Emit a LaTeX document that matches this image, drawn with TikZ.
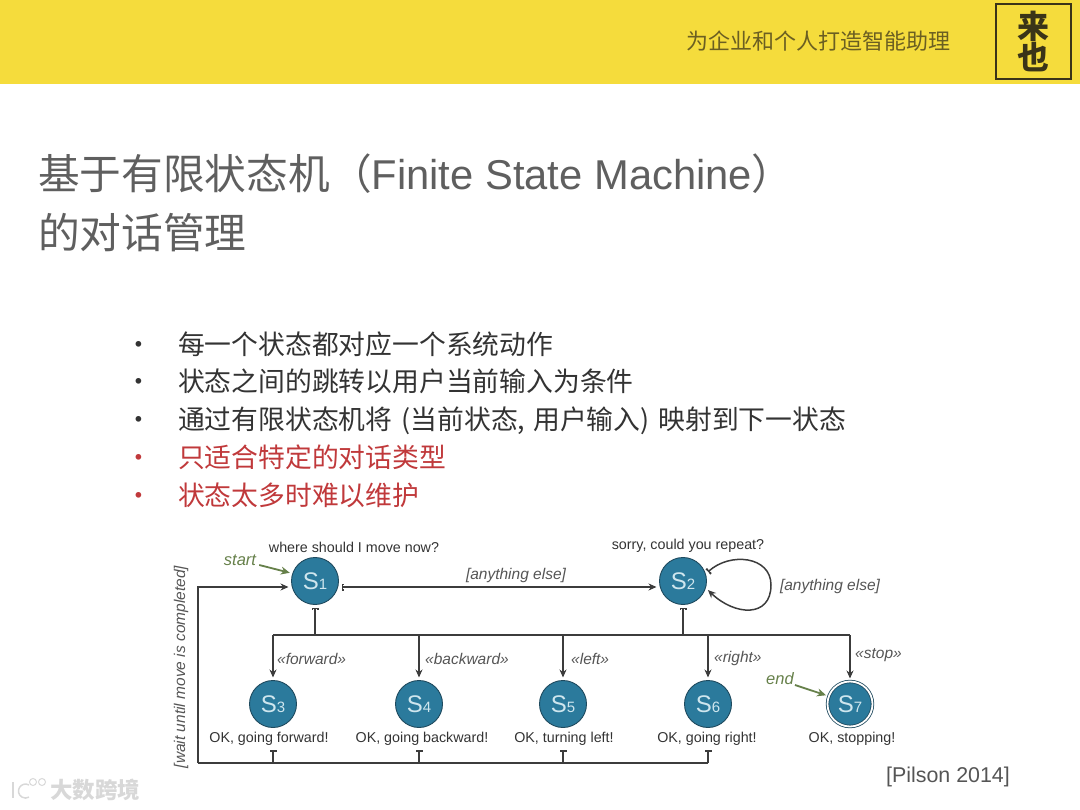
\documentclass[tikz,border=0pt]{standalone}
\usepackage{fontspec}
\setmainfont{Liberation Sans}
\newfontfamily\cjk{Noto Sans CJK SC}
\usetikzlibrary{arrows.meta,positioning}
\definecolor{banner}{HTML}{F5DC3C}
\definecolor{inkdark}{HTML}{3A3418}
\definecolor{bannertext}{HTML}{6B5F22}
\definecolor{titlegray}{HTML}{5F5F5F}
\definecolor{bodygray}{HTML}{333333}
\definecolor{warnred}{HTML}{C0393B}
\definecolor{teal}{HTML}{2B7A9C}
\definecolor{tealdark}{HTML}{1F4A5E}
\definecolor{tealtext}{HTML}{CFE6EE}
\definecolor{linegray}{HTML}{3C3C3C}
\definecolor{labelgray}{HTML}{555555}
\definecolor{mossgreen}{HTML}{66804A}
\definecolor{markgray}{HTML}{D8D8D8}
\newcommand{\sname}[1]{S{\fontsize{15}{15}\selectfont #1}}
\newcommand{\fsize}[1]{\fontsize{#1}{#1}\selectfont}
\newcommand{\dotitem}{\makebox[45pt][l]{\hspace{-8pt}•}}

\begin{document}
\begin{tikzpicture}[
    x=1pt, y=-1pt,
    state/.style={circle, draw=tealdark, fill=teal, line width=0.9pt, minimum size=47pt,
                  inner sep=0pt, outer sep=3pt, text=tealtext, font=\fsize{24}},
    final/.style={circle, draw=tealdark, fill=teal, line width=0.8pt, double=white,
                  double distance=1.8pt, minimum size=45pt,
                  inner sep=0pt, outer sep=3pt, text=tealtext, font=\fsize{24}},
    speech/.style={text=bodygray, font=\fsize{14.3}, inner sep=0pt, minimum height=22pt},
    guard/.style={text=labelgray, font=\fsize{15.5}\itshape, inner sep=0pt},
    green label/.style={text=mossgreen, font=\fsize{16.5}\itshape, inner sep=0pt},
    bullet/.style={font=\cjk\fsize{26.8}, inner sep=0pt, text height=23pt, text depth=14.3pt, anchor=north west},
    wire/.style={draw=linegray, line width=1.5pt},
    arrow/.style={wire, -{Stealth[length=8pt,width=7pt]}},
    tbar/.style={wire, {Bar[width=7pt,length=2pt]}-},
    tarrow/.style={wire, {Bar[width=7pt,length=2pt]}-{Stealth[length=8pt,width=7pt]}},
    garrow/.style={-{Stealth[length=9pt,width=8pt]}, draw=mossgreen, line width=1.8pt},
]
    \useasboundingbox (0,0) rectangle (1080,810);
    % banner
    \fill[banner] (0,0) rectangle (1080,84);
    \node[text=bannertext, font=\cjk\fsize{22}, inner sep=0pt] (slogan) at (818,41) {为企业和个人打造智能助理};
    \node[draw=inkdark, line width=1.1pt, minimum width=75pt, minimum height=75pt, inner sep=0pt,
          align=center, text=inkdark, font=\cjk\bfseries\fontsize{32}{31}\selectfont] (logo) at (1033.5,41.5) {来\\也};

    % title and bullets
    \node[anchor=north west, align=left, text=titlegray, inner sep=0pt,
          font=\fontsize{41.7}{59}\selectfont] (title) at (38,154)
        {{\cjk 基于有限状态机（}Finite State Machine{\cjk ）}\\{\cjk 的对话管理}};
    \node[bullet, text=bodygray] (b1) at (133,331) {\dotitem 每一个状态都对应一个系统动作};
    \node[bullet, text=bodygray, below=0pt of b1.south west, anchor=north west] (b2) {\dotitem 状态之间的跳转以用户当前输入为条件};
    \node[bullet, text=bodygray, below=0pt of b2.south west, anchor=north west] (b3) {\dotitem 通过有限状态机将\hspace{3pt} (当前状态,\hspace{2pt} 用户输入)\hspace{3pt} 映射到下一状态};
    \node[bullet, text=warnred, below=0pt of b3.south west, anchor=north west] (b4) {\dotitem 只适合特定的对话类型};
    \node[bullet, text=warnred, below=0pt of b4.south west, anchor=north west] (b5) {\dotitem 状态太多时难以维护};

    % states
    \node[state] (s1) at (315,581) {\sname{1}};
    \node[state, right=315pt of s1] (s2) {\sname{2}};
    \node[state] (s3) at (273,704) {\sname{3}};
    \node[state, right=93pt of s3] (s4) {\sname{4}};
    \node[state, right=91pt of s4] (s5) {\sname{5}};
    \node[state, right=92pt of s5] (s6) {\sname{6}};
    \node[final, right=90pt of s6] (s7) {\sname{7}};

    % what the system says
    \node[speech] (say1) at (354,547) {where should I move now?};
    \node[speech] (say2) at (688,546) {sorry, could you repeat?};
    \node[speech] (say3) at (269,739) {OK, going forward!};
    \node[speech] (say4) at (422,739) {OK, going backward!};
    \node[speech] (say5) at (564,739) {OK, turning left!};
    \node[speech] (say6) at (707,739) {OK, going right!};
    \node[speech] (say7) at (852,739) {OK, stopping!};

    % guards
    \node[guard] (else12) at (516,575) {[anything else]};
    \node[guard] (else22) at (830,586) {[anything else]};
    \node[guard, anchor=west] (gforward) at (277,659) {«forward»};
    \node[guard, anchor=west] (gbackward) at (425,659) {«backward»};
    \node[guard, anchor=west] (gleft) at (571,659) {«left»};
    \node[guard, anchor=west] (gright) at (714,658) {«right»};
    \node[guard, anchor=west] (gstop) at (855,655) {«stop»};
    \node[guard, rotate=90] (gwait) at (181,667) {[wait until move is completed]};

    \node[green label] (start) at (240,560) {start};
    \node[green label] (end) at (780,679) {end};
    \node[text=labelgray, font=\fsize{21.4}, inner sep=0pt] (cite) at (948,777) {[Pilson 2014]};

    % bus lines
    \coordinate (bustop) at (315,635);
    \coordinate (busleft) at (198,763);

    \draw[garrow] (start.east) ++(3pt,-5pt) coordinate (startout) -- (s1.162);
    \draw[garrow] (end.east) ++(1pt,-6pt) coordinate (endout) -- (s7.160);

    \draw[tarrow] ([yshift=-6pt]s1.east) -- ([yshift=-6pt]s2.west);
    \draw[tarrow] (s2.20) .. controls (730,552) and (771,556) .. (771,585)
                          .. controls (771,618) and (735,616) .. (s2.-20);

    \draw[tbar] (s1) -- (s1 |- bustop);
    \draw[tbar] (s2) -- (s2 |- bustop);
    \draw[wire] (s3 |- bustop) -- (s7 |- bustop);
    \draw[arrow] (s3 |- bustop) -- (s3);
    \draw[arrow] (s4 |- bustop) -- (s4);
    \draw[arrow] (s5 |- bustop) -- (s5);
    \draw[arrow] (s6 |- bustop) -- (s6);
    \draw[arrow] (s7 |- bustop) -- (s7);

    \draw[tbar] (s3 |- say3.south) -- (s3 |- busleft);
    \draw[tbar] (s4 |- say4.south) -- (s4 |- busleft);
    \draw[tbar] (s5 |- say5.south) -- (s5 |- busleft);
    \draw[tbar] (s6 |- say6.south) -- (s6 |- busleft);
    \draw[wire] (s6 |- busleft) -- (busleft);
    \draw[arrow] (busleft) |- ([yshift=-6pt]s1.west);

    % watermark
    \node[text=markgray, font=\cjk\bfseries\fsize{22.5}, inner sep=0pt] (mark) at (95,790) {大数跨境};
    \draw[markgray, line width=1.5pt] (13,782) -- (13,798);
    \draw[markgray, line width=1.5pt] (29,785) arc (60:300:7pt);
    \draw[markgray, line width=1pt] (33,782) circle (3.5pt);
    \draw[markgray, line width=1pt] (42,782) circle (3.5pt);
\end{tikzpicture}
\end{document}
